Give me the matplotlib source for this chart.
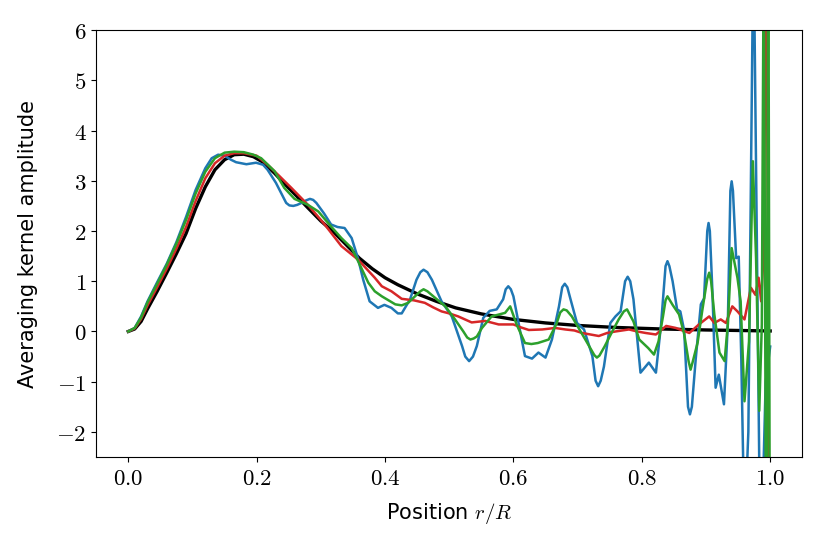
import numpy as np
import matplotlib
matplotlib.use("Agg")
import matplotlib.pyplot as plt

plt.rcParams['mathtext.fontset'] = 'cm'
plt.rcParams['font.family'] = ['DejaVu Sans']

# target kernel (black)
target_x = [0, 0.01, 0.02, 0.03, 0.045, 0.06, 0.075, 0.09, 0.105, 0.12, 0.135, 0.15, 0.165, 0.18,
            0.195, 0.21, 0.228, 0.245, 0.262, 0.28, 0.3, 0.32, 0.34, 0.36, 0.38, 0.4, 0.42, 0.45,
            0.48, 0.51, 0.55, 0.6, 0.65, 0.7, 0.76, 0.83, 0.9, 1.0]
target_y = [0, 0.05, 0.2, 0.45, 0.8, 1.17, 1.55, 1.95, 2.45, 2.88, 3.22, 3.42, 3.52, 3.53,
            3.48, 3.37, 3.15, 2.92, 2.7, 2.46, 2.2, 1.98, 1.72, 1.46, 1.25, 1.07, 0.93, 0.75,
            0.6, 0.47, 0.35, 0.24, 0.17, 0.12, 0.08, 0.05, 0.03, 0.01]

# red kernel
red_x = [0, 0.01, 0.02, 0.03, 0.045, 0.06, 0.075, 0.09, 0.105, 0.12, 0.135, 0.15, 0.165, 0.18,
         0.2, 0.217, 0.235, 0.254, 0.28, 0.306, 0.332, 0.358, 0.384, 0.395, 0.41, 0.426, 0.445,
         0.462, 0.475, 0.488, 0.5, 0.514, 0.535, 0.556, 0.577, 0.6, 0.612, 0.624, 0.645, 0.665,
         0.681, 0.695, 0.707, 0.72, 0.733, 0.746, 0.759, 0.78, 0.793, 0.806, 0.822, 0.838, 0.853,
         0.874, 0.889, 0.905, 0.913, 0.923, 0.931, 0.941, 0.949, 0.96, 0.97, 0.977, 0.982, 0.986,
         0.99, 0.994, 1.0]
red_y = [0, 0.06, 0.25, 0.52, 0.88, 1.25, 1.65, 2.08, 2.6, 3.05, 3.35, 3.5, 3.55, 3.55,
         3.5, 3.32, 3.1, 2.86, 2.52, 2.13, 1.70, 1.43, 1.07, 0.90, 0.80, 0.65, 0.62,
         0.57, 0.48, 0.40, 0.36, 0.30, 0.18, 0.21, 0.14, 0.14, 0.08, 0.03, 0.04, 0.07,
         0.04, 0.02, -0.03, -0.06, -0.09, -0.03, 0.0, 0.04, 0.0, -0.03, -0.06, 0.11, 0.07,
         -0.03, 0.14, 0.30, 0.17, 0.24, 0.17, 0.50, 0.40, 0.24, 0.87, 0.73, 1.07, 0.6,
         1.6, 8.0, -8.0]

# green kernel
green_x = [0, 0.01, 0.02, 0.03, 0.045, 0.06, 0.075, 0.09, 0.105, 0.12, 0.135, 0.15, 0.165, 0.18,
           0.195, 0.207, 0.228, 0.243, 0.259, 0.28, 0.296, 0.316, 0.332, 0.348, 0.358, 0.374,
           0.384, 0.395, 0.416, 0.426, 0.436, 0.455, 0.46, 0.466, 0.478, 0.494, 0.509, 0.522,
           0.528, 0.533, 0.538, 0.543, 0.551, 0.566, 0.587, 0.595, 0.605, 0.618, 0.628, 0.638,
           0.655, 0.667, 0.673, 0.678, 0.683, 0.691, 0.712, 0.726, 0.73, 0.734, 0.742, 0.754,
           0.764, 0.772, 0.777, 0.787, 0.796, 0.81, 0.819, 0.826, 0.833, 0.837, 0.84, 0.848,
           0.858, 0.866, 0.873, 0.876, 0.879, 0.887, 0.894, 0.902, 0.905, 0.908, 0.913, 0.921,
           0.929, 0.934, 0.94, 0.949, 0.954, 0.96, 0.967, 0.973, 0.978, 0.983, 0.987, 0.99,
           0.994, 0.997, 1.0]
green_y = [0, 0.07, 0.28, 0.58, 0.95, 1.33, 1.75, 2.22, 2.75, 3.18, 3.45, 3.56, 3.58, 3.57,
           3.52, 3.45, 3.19, 2.86, 2.64, 2.52, 2.39, 2.09, 1.86, 1.66, 1.40, 0.97,
           0.80, 0.70, 0.54, 0.52, 0.57, 0.80, 0.84, 0.80, 0.67, 0.50, 0.24, 0.0,
           -0.12, -0.16, -0.14, -0.1, 0.07, 0.30, 0.37, 0.50, 0.14, -0.23, -0.25, -0.23,
           -0.16, 0.15, 0.38, 0.44, 0.42, 0.30, -0.16, -0.47, -0.52, -0.48, -0.3, 0.0,
           0.24, 0.40, 0.44, 0.2, -0.16, -0.33, -0.46, -0.2, 0.3, 0.62, 0.70, 0.53,
           0.34, -0.05, -0.6, -0.76, -0.62, -0.22, 0.40, 1.05, 1.17, 1.0, 0.34, -0.42,
           -0.59, 0.14, 1.66, 1.07, 0.60, -1.39, -0.2, 3.39, 1.46, -1.58, 0.14, 8.0,
           -6.0, 9.0, -8.0]

# blue kernel
blue_x = [0, 0.01, 0.02, 0.03, 0.045, 0.06, 0.075, 0.09, 0.105, 0.12, 0.13, 0.14, 0.15, 0.16,
          0.168, 0.184, 0.199, 0.21, 0.217, 0.23, 0.246, 0.251, 0.257, 0.263, 0.27, 0.277,
          0.283, 0.288, 0.293, 0.305, 0.316, 0.326, 0.337, 0.348, 0.358, 0.366, 0.376, 0.389,
          0.399, 0.41, 0.42, 0.426, 0.439, 0.449, 0.455, 0.46, 0.466, 0.473, 0.488, 0.504,
          0.52, 0.525, 0.531, 0.537, 0.543, 0.553, 0.563, 0.574, 0.584, 0.588, 0.592, 0.596,
          0.6, 0.608, 0.618, 0.629, 0.639, 0.65, 0.66, 0.671, 0.676, 0.68, 0.684, 0.689,
          0.699, 0.71, 0.723, 0.728, 0.732, 0.736, 0.741, 0.751, 0.759, 0.767, 0.774, 0.778,
          0.782, 0.787, 0.798, 0.811, 0.822, 0.83, 0.837, 0.84, 0.843, 0.848, 0.855, 0.86,
          0.866, 0.872, 0.875, 0.878, 0.884, 0.892, 0.897, 0.902, 0.904, 0.906, 0.91, 0.915,
          0.92, 0.928, 0.934, 0.938, 0.94, 0.942, 0.947, 0.951, 0.955, 0.96, 0.966, 0.974,
          0.985, 0.993, 1.0]
blue_y = [0, 0.07, 0.3, 0.6, 0.98, 1.35, 1.78, 2.28, 2.82, 3.25, 3.45, 3.52, 3.50, 3.42,
          3.37, 3.33, 3.36, 3.32, 3.22, 2.96, 2.56, 2.51, 2.50, 2.52, 2.56, 2.61,
          2.64, 2.62, 2.56, 2.35, 2.13, 2.08, 2.06, 1.86, 1.45, 1.03, 0.60, 0.47,
          0.53, 0.47, 0.36, 0.36, 0.64, 1.03, 1.18, 1.23, 1.18, 1.03, 0.60, 0.30,
          -0.29, -0.5, -0.59, -0.5, -0.29, 0.27, 0.41, 0.44, 0.64, 0.84, 0.90, 0.84,
          0.70, 0.17, -0.49, -0.54, -0.42, -0.52, -0.16, 0.50, 0.88, 0.95, 0.88, 0.64,
          0.17, 0.04, -0.49, -0.98, -1.09, -0.98, -0.70, 0.17, 0.30, 0.40, 1.0, 1.09,
          1.0, 0.64, -0.82, -0.62, -0.82, 0.14, 1.3, 1.40, 1.3, 1.0, 0.44, 0.40,
          0.02, -1.5, -1.65, -1.5, -0.55, 0.54, 0.66, 2.0, 2.16, 2.0, 0.80, -1.12,
          -0.86, -1.45, 0.14, 2.8, 2.99, 2.8, 1.46, 1.49, -0.55, -4.0, -2.0, 8.0,
          -5.0, -1.0, -0.3]

fig, ax = plt.subplots(figsize=(8.22, 5.48), dpi=100)
fig.subplots_adjust(left=0.117, right=0.976, bottom=0.166, top=0.945)

ax.plot(target_x, target_y, color='black', lw=2.4)
ax.plot(blue_x, blue_y, color='tab:blue', lw=1.8)
ax.plot(red_x, red_y, color='tab:red', lw=1.8)
ax.plot(green_x, green_y, color='tab:green', lw=1.8)

ax.set_xlim(-0.05, 1.05)
ax.set_ylim(-2.5, 6)

xt = [0.0, 0.2, 0.4, 0.6, 0.8, 1.0]
yt = [-2, -1, 0, 1, 2, 3, 4, 5, 6]
ax.set_xticks(xt)
ax.set_xticklabels([f"${v:.1f}$" for v in xt], fontsize=16.5)
ax.set_yticks(yt)
ax.set_yticklabels([f"${v}$" for v in yt], fontsize=16.5)

ax.set_xlabel("Position $r/R$", fontsize=15, labelpad=8)
ax.set_ylabel("Averaging kernel amplitude", fontsize=15, labelpad=13)

fig.savefig("out.png", dpi=100)
